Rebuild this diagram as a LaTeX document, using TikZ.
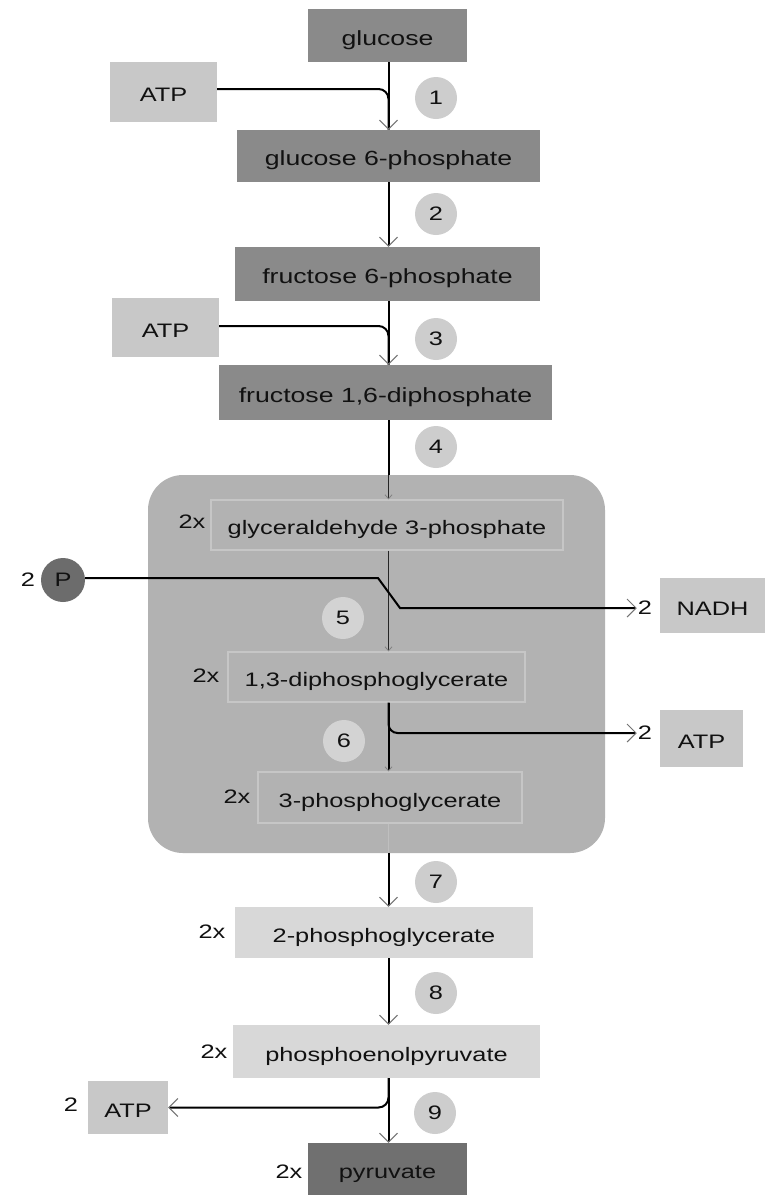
\documentclass[tikz,border=0pt]{standalone}
\usepackage{fontspec}
\setmainfont{Liberation Sans}[FakeStretch=1.3]
\usetikzlibrary{arrows.meta}
\definecolor{cDark}{HTML}{8A8A8A}
\definecolor{cPyr}{HTML}{707070}
\definecolor{cLight}{HTML}{C8C8C8}
\definecolor{cPale}{HTML}{D8D8D8}
\definecolor{cRegion}{HTML}{B2B2B2}
\definecolor{cInner}{HTML}{C6C6C6}
\definecolor{cNum}{HTML}{CDCDCD}
\definecolor{cNumIn}{HTML}{D3D3D3}
\definecolor{cP}{HTML}{6C6C6C}
\definecolor{cText}{HTML}{111111}
\begin{document}
\begin{tikzpicture}[x=1pt,y=-1pt,
  txt/.style={font=\fontsize{19.5}{22}\selectfont, text=cText},
  box/.style={rectangle, inner sep=0pt, txt, text height=19pt, text depth=0pt},
  bigbox/.style={box, font=\fontsize{20.5}{23}\selectfont},
  darkbox/.style={bigbox, fill=cDark},
  pyrbox/.style={box, fill=cPyr},
  lightbox/.style={box, fill=cLight},
  palebox/.style={box, fill=cPale},
  innerbox/.style={box, fill=cRegion, draw=cInner, line width=1.3pt},
  num/.style={circle, fill=cNum, minimum size=42pt, inner sep=0pt, txt},
  numin/.style={num, fill=cNumIn},
  lbl/.style={inner sep=1pt, txt},
  mainline/.style={line width=2pt, draw=black},
  thinline/.style={line width=0.9pt, draw=black!85},
  arr/.style={-{Straight Barb[length=9pt,width=18pt,line width=1pt,color=black!55]}},
  smallarr/.style={-{Straight Barb[length=4pt,width=7pt,line width=0.8pt,color=black!50]}}
]
\useasboundingbox (0,0) rectangle (765,1195);
\fill[white] (0,0) rectangle (765,1195);
\coordinate (ax) at (388.5,0);

% grouped region
\node[rectangle, rounded corners=35pt, fill=cRegion, minimum width=457pt, minimum height=378pt, inner sep=0pt] (region) at (376.5,664) {};

% boxes
\node[darkbox, minimum width=159pt, minimum height=53pt] (glucose) at (387.5,35.5) {glucose};
\node[lightbox, minimum width=107pt, minimum height=60pt] (atp1) at (163.5,92) {ATP};
\node[darkbox, minimum width=303pt, minimum height=52pt] (g6p) at (388.5,156) {glucose 6-phosphate};
\node[darkbox, minimum width=305pt, minimum height=54pt] (f6p) at (387.5,274) {fructose 6-phosphate};
\node[lightbox, minimum width=107pt, minimum height=59pt] (atp2) at (165.5,327.5) {ATP};
\node[darkbox, minimum width=333pt, minimum height=55pt] (f16) at (385.5,392.5) {fructose 1,6-diphosphate};

\node[innerbox, minimum width=352pt, minimum height=50pt] (gap) at (387,525) {glyceraldehyde 3-phosphate};
\node[lbl] (gapx) at (192,522) {2x};
\node[circle, fill=cP, minimum size=44pt, inner sep=0pt, txt] (P) at (63,580) {P};
\node[lbl] (Ptwo) at (28,580) {2};
\node[lbl] (nadhtwo) at (645,608) {2};
\node[lightbox, minimum width=105pt, minimum height=55pt] (nadh) at (712.5,605.5) {NADH};

\node[innerbox, minimum width=297pt, minimum height=50pt] (dpg) at (376.5,677) {1,3-diphosphoglycerate};
\node[lbl] (dpgx) at (206,676) {2x};
\node[lbl] (atptwo) at (645,733) {2};
\node[lightbox, minimum width=83pt, minimum height=57pt] (atpout2) at (701.5,738.5) {ATP};

\node[innerbox, minimum width=264pt, minimum height=51pt] (pg3) at (390,797.5) {3-phosphoglycerate};
\node[lbl] (pg3x) at (237,797) {2x};

\node[palebox, minimum width=298pt, minimum height=51pt] (pg2) at (384,932.5) {2-phosphoglycerate};
\node[lbl] (pg2x) at (212,932) {2x};
\node[palebox, minimum width=307pt, minimum height=53pt] (pep) at (386.5,1051.5) {phosphoenolpyruvate};
\node[lbl] (pepx) at (214,1052) {2x};
\node[lightbox, minimum width=80pt, minimum height=53pt] (atp3) at (128,1107.5) {ATP};
\node[lbl] (atp3two) at (71,1105) {2};
\node[pyrbox, minimum width=159pt, minimum height=52pt] (pyr) at (387.5,1169) {pyruvate};
\node[lbl] (pyrx) at (289,1172) {2x};

% step numbers
\node[num] (n1) at (436,98) {1};
\node[num] (n2) at (436,214) {2};
\node[num] (n3) at (436,339) {3};
\node[num] (n4) at (436,447) {4};
\node[numin] (n5) at (343,618) {5};
\node[numin] (n6) at (344,741) {6};
\node[num] (n7) at (436,882) {7};
\node[num] (n8) at (436,993) {8};
\node[num] (n9) at (435,1113) {9};

% connectors
\draw[mainline, rounded corners=10pt] (atp1.east |- 0,89) -| (ax |- g6p.north);
\draw[mainline, arr] (ax |- glucose.south) -- (ax |- g6p.north);
\draw[mainline, arr] (ax |- g6p.south) -- (ax |- f6p.north);
\draw[mainline, rounded corners=10pt] (atp2.east |- 0,326) -| (ax |- f16.north);
\draw[mainline, arr] (ax |- f6p.south) -- (ax |- f16.north);
\draw[mainline] (ax |- f16.south) -- (ax |- region.north);
\draw[thinline, smallarr] (ax |- region.north) -- (ax |- gap.north);
\draw[thinline, smallarr] (ax |- gap.south) -- (ax |- dpg.north);
\draw[mainline, arr] (P.east |- 0,578) -- (378,578) -- (400,608) -- (nadhtwo.west);
\draw[mainline, smallarr] (ax |- dpg.south) -- (ax |- pg3.north);
\draw[mainline, arr, rounded corners=9pt] (ax |- dpg.south) |- (atptwo.west);
\draw[line width=1pt, draw=black!25] (ax |- pg3.south) -- (ax |- region.south);
\draw[mainline, arr] (ax |- region.south) -- (ax |- pg2.north);
\draw[mainline, arr] (ax |- pg2.south) -- (ax |- pep.north);
\draw[mainline, arr, rounded corners=10pt] (ax |- pep.south) |- (atp3.east);
\draw[mainline, arr] (ax |- pep.south) -- (ax |- pyr.north);
\end{tikzpicture}
\end{document}
